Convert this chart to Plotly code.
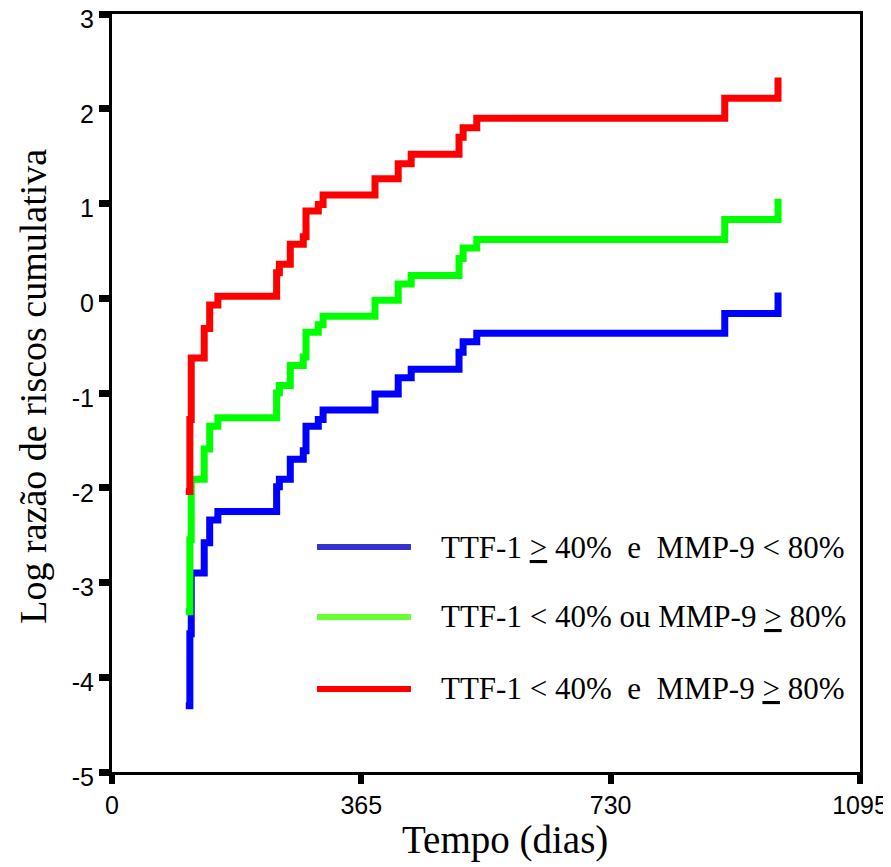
import plotly.graph_objects as go

# Event times (days) shared by the three groups
tempo = [108, 114, 116, 135, 143, 155, 241, 245, 261, 280, 284, 302, 309,
         385, 419, 438, 508, 514, 534, 897, 975]

# Log cumulative hazard per group
azul = [-4.30, -3.54, -2.90, -2.58, -2.34, -2.25, -1.99, -1.91, -1.70, -1.61,
        -1.35, -1.28, -1.18, -1.01, -0.84, -0.75, -0.57, -0.46, -0.37, -0.16, 0.06]
verde = [-3.31, -2.55, -1.91, -1.59, -1.35, -1.26, -1.00, -0.92, -0.71, -0.62,
         -0.36, -0.28, -0.19, -0.02, 0.15, 0.24, 0.42, 0.53, 0.62, 0.83, 1.05]
vermelho = [-2.04, -1.28, -0.63, -0.32, -0.07, 0.02, 0.27, 0.36, 0.57, 0.65,
            0.92, 0.99, 1.09, 1.26, 1.42, 1.52, 1.70, 1.80, 1.90, 2.11, 2.33]

grupos = [
    "TTF-1 <u>></u> 40%  e  MMP-9 < 80%",
    "TTF-1 < 40% ou MMP-9 <u>></u> 80%",
    "TTF-1 < 40%  e  MMP-9 <u>></u> 80%",
]
cores_linha = ["#0000FF", "#00FF00", "#FF0000"]
cores_legenda = ["#3333CC", "#66FF33", "#FF0000"]

x_ticks = [0, 365, 730, 1095]
y_ticks = [-5, -4, -3, -2, -1, 0, 1, 2, 3]

fig = go.Figure()
for serie, cor, nome in zip([azul, verde, vermelho], cores_linha, grupos):
    fig.add_trace(go.Scatter(x=tempo, y=serie, mode="lines", line_shape="hv",
                             line=dict(color=cor, width=7), name=nome,
                             showlegend=False, hoverinfo="skip"))

serif = "Liberation Serif, Times New Roman, serif"
sans = "Liberation Sans, Arial, sans-serif"

# legend drawn manually
leg_y = [0.2968, 0.2045, 0.1095]
shapes = []
annotations = []
for yy, cor, nome in zip(leg_y, cores_legenda, grupos):
    shapes.append(dict(type="line", xref="paper", yref="paper",
                       x0=0.2741, x1=0.3997, y0=yy, y1=yy,
                       line=dict(color=cor, width=6)))
    annotations.append(dict(xref="paper", yref="paper", x=0.4372, y=yy,
                            xanchor="left", yanchor="middle", showarrow=False,
                            text=nome, font=dict(family=serif, size=31, color="black")))

annotations.append(dict(xref="paper", yref="paper", x=0.525, y=-0.09,
                        xanchor="center", yanchor="middle", showarrow=False,
                        text="Tempo (dias)",
                        font=dict(family=serif, size=39, color="black")))
annotations.append(dict(xref="paper", yref="paper", x=-0.105, y=0.509,
                        xanchor="center", yanchor="middle", showarrow=False,
                        textangle=-90, text="Log razão de riscos cumulativa",
                        font=dict(family=serif, size=38, color="black")))

# the page body adds an 8px margin, so the figure is sized/offset to compensate
fig.update_layout(
    template="none",
    width=883, height=859, autosize=False,
    margin=dict(l=104, r=31, t=6, b=95),
    paper_bgcolor="white", plot_bgcolor="white",
    shapes=shapes, annotations=annotations,
    xaxis=dict(range=[0, 1095], tickvals=x_ticks, ticktext=[str(v) for v in x_ticks],
               showgrid=False, zeroline=False, showline=True, linecolor="black",
               linewidth=3, mirror=True, ticks="outside", ticklen=9, tickwidth=6,
               tickcolor="black", automargin=False, ticklabeloverflow="allow",
               tickfont=dict(family=sans, size=25, color="black")),
    yaxis=dict(range=[-5, 3], tickvals=y_ticks, ticktext=[str(v) for v in y_ticks],
               showgrid=False, zeroline=False, showline=True, linecolor="black",
               linewidth=3, mirror=True, ticks="outside", ticklen=10, tickwidth=7,
               tickcolor="black", automargin=False, ticklabeloverflow="allow",
               ticklabelshift=5,
               tickfont=dict(family=sans, size=25, color="black")),
)

fig.write_html("out.html")
